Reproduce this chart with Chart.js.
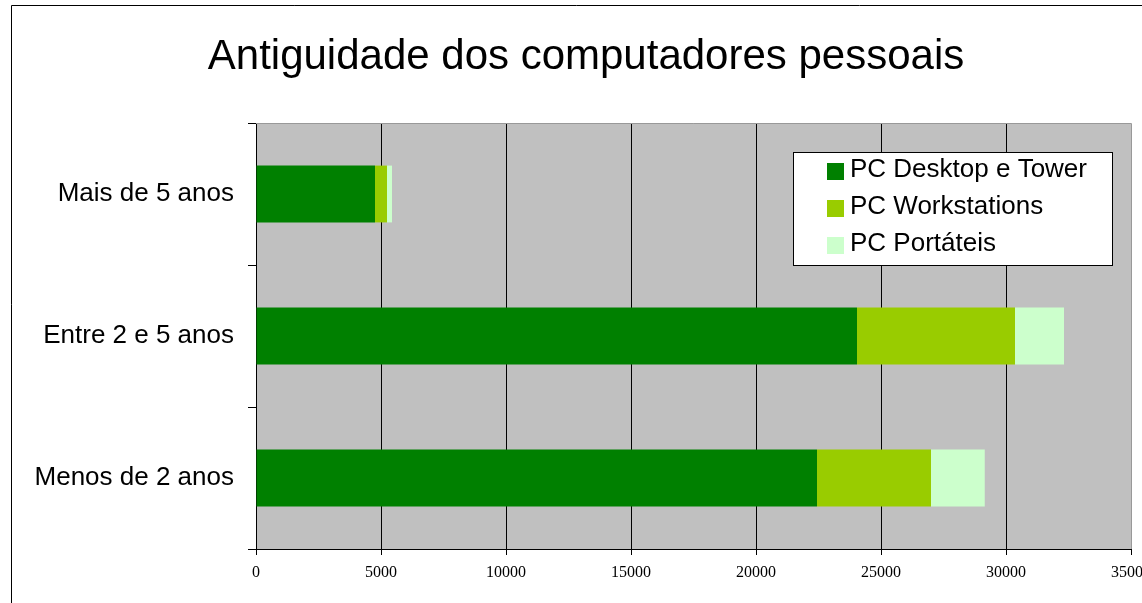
<!DOCTYPE html>
<html lang="pt">
<head>
    <meta charset="UTF-8">
    <title>Antiguidade dos computadores pessoais</title>
    <script src="https://cdn.jsdelivr.net/npm/chart.js"></script>
    <style>
        body { margin: 0; background: #ffffff; }
        #wrap { width: 1142px; height: 603px; }
    </style>
</head>
<body>
    <div id="wrap"><canvas id="grafico" width="1142" height="603"></canvas></div>

    <script>
        const titulo = 'Antiguidade dos computadores pessoais';
        const faixas = ['Mais de 5 anos', 'Entre 2 e 5 anos', 'Menos de 2 anos'];
        const desktopTower = [4760, 24040, 22440];
        const workstations = [480, 6320, 4560];
        const portateis = [200, 1960, 2150];
        const eixoMax = 35000;
        const eixoPasso = 5000;

        const sans = "'Liberation Sans', Arial, sans-serif";
        const serif = "'Liberation Serif', 'Times New Roman', serif";

        // fundo cinzento da área de plotagem, moldura exterior e título
        const fundo = {
            id: 'fundo',
            beforeDraw(chart) {
                const { ctx, chartArea: a } = chart;
                ctx.save();
                ctx.fillStyle = '#c0c0c0';
                ctx.fillRect(a.left, a.top, a.right - a.left, a.bottom - a.top);
                ctx.strokeStyle = '#000';
                ctx.lineWidth = 1;
                ctx.beginPath();
                ctx.moveTo(11.5, 603);
                ctx.lineTo(11.5, 5.5);
                ctx.lineTo(1142, 5.5);
                ctx.stroke();
                ctx.fillStyle = '#000';
                ctx.font = '42px ' + sans;
                ctx.textAlign = 'center';
                ctx.textBaseline = 'alphabetic';
                ctx.fillText(titulo, 586, 69);
                ctx.restore();
            },
            afterDraw(chart) {
                const { ctx, chartArea: a } = chart;
                ctx.save();
                ctx.strokeStyle = '#999';
                ctx.lineWidth = 1;
                ctx.beginPath();
                ctx.moveTo(a.left, a.top + 0.5);
                ctx.lineTo(a.right + 0.5, a.top + 0.5);
                ctx.lineTo(a.right + 0.5, a.bottom);
                ctx.stroke();
                ctx.restore();
            }
        };

        // legenda em caixa branca dentro da área de plotagem
        const legenda = {
            id: 'legenda',
            afterDraw(chart) {
                const ctx = chart.ctx;
                ctx.save();
                ctx.fillStyle = '#fff';
                ctx.fillRect(793, 152, 319, 113);
                ctx.strokeStyle = '#000';
                ctx.lineWidth = 1;
                ctx.strokeRect(793.5, 152.5, 319, 113);
                ctx.font = '26px ' + sans;
                ctx.textBaseline = 'alphabetic';
                ctx.textAlign = 'left';
                chart.data.datasets.forEach((ds, i) => {
                    const base = 177 + i * 37;
                    ctx.fillStyle = ds.backgroundColor;
                    ctx.fillRect(827, base - 14, 17, 17);
                    ctx.fillStyle = '#000';
                    ctx.fillText(ds.label, 850, base);
                });
                ctx.restore();
            }
        };

        new Chart(document.getElementById('grafico'), {
            type: 'bar',
            data: {
                labels: faixas,
                datasets: [
                    { label: 'PC Desktop e Tower', data: desktopTower, backgroundColor: '#008000' },
                    { label: 'PC Workstations', data: workstations, backgroundColor: '#99cc00' },
                    { label: 'PC Portáteis', data: portateis, backgroundColor: '#ccffcc' }
                ]
            },
            options: {
                indexAxis: 'y',
                responsive: false,
                animation: false,
                devicePixelRatio: 1,
                layout: { padding: { top: 123, right: 11, left: 0, bottom: 0 } },
                datasets: { bar: { barPercentage: 0.4, categoryPercentage: 1, borderWidth: 0 } },
                plugins: {
                    legend: { display: false },
                    title: { display: false },
                    tooltip: { enabled: false }
                },
                scales: {
                    x: {
                        stacked: true,
                        min: 0,
                        max: eixoMax,
                        afterFit(s) {
                            s.height = 54;
                            s.paddingLeft = 0;
                            s.paddingRight = 0;
                        },
                        ticks: {
                            stepSize: eixoPasso,
                            color: '#000',
                            padding: 8,
                            font: { family: serif, size: 16 },
                            maxRotation: 0,
                            callback: v => String(v)
                        },
                        grid: {
                            color: c => (c.tick && c.tick.value === eixoMax) ? 'rgba(0,0,0,0)' : '#000',
                            tickColor: '#000',
                            tickLength: 6,
                            lineWidth: 1
                        },
                        border: { color: '#000', width: 1 }
                    },
                    y: {
                        stacked: true,
                        afterFit(s) { s.width = 256; },
                        ticks: {
                            color: '#000',
                            padding: 14,
                            font: { family: sans, size: 26 }
                        },
                        grid: {
                            drawOnChartArea: false,
                            tickColor: '#000',
                            tickLength: 8,
                            offset: true
                        },
                        border: { color: '#000', width: 1 }
                    }
                }
            },
            plugins: [fundo, legenda]
        });
    </script>
</body>
</html>
